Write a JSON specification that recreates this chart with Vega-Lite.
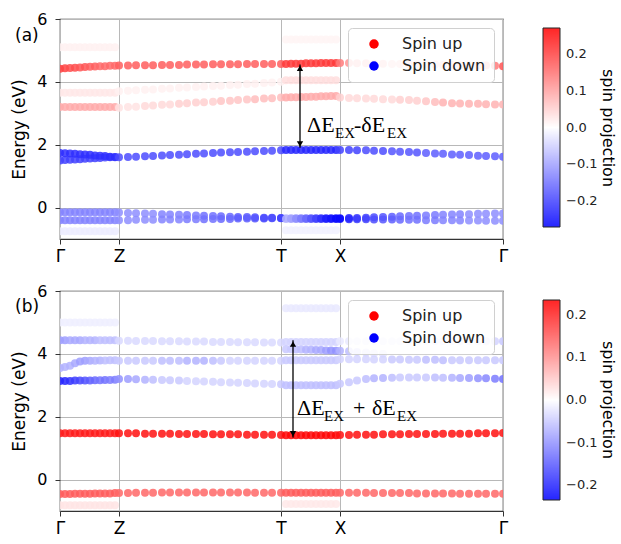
{
"$schema":"https://vega.github.io/schema/vega-lite/v6.json",
"background":"white",
"padding":{"left":10,"top":10,"right":2,"bottom":5},
"spacing":17,
"config":{
 "font":"DejaVu Sans",
 "view":{"stroke":"#333333","strokeWidth":1.2},
 "axis":{"domain":false,"tickColor":"#333333","tickSize":5,"labelColor":"#000000","labelFontSize":16,"titleFontSize":17,"titleFontWeight":"normal","titleColor":"#000000","gridColor":"#b8b8b8","gridWidth":1,"zindex":1,"labelFlush":false}
},
"resolve":{"scale":{"color":"independent","fill":"independent","shape":"independent","x":"independent","y":"independent"}},
"datasets":{
"leg":[{"lab":"Spin up"},{"lab":"Spin down"}],
"A":[
{"k":0,"e":5.1,"s":0.015},{"k":5,"e":5.1,"s":0.015},{"k":10,"e":5.1,"s":0.015},{"k":15,"e":5.1,"s":0.015},{"k":20,"e":5.1,"s":0.015},{"k":25,"e":5.1,"s":0.015},{"k":30,"e":5.1,"s":0.015},{"k":35,"e":5.1,"s":0.015},{"k":40,"e":5.1,"s":0.015},{"k":45,"e":5.1,"s":0.015},{"k":50,"e":5.1,"s":0.015},{"k":55,"e":5.1,"s":0.015},
{"k":226,"e":5.35,"s":0.012},{"k":231,"e":5.35,"s":0.012},{"k":236,"e":5.35,"s":0.012},{"k":241,"e":5.35,"s":0.012},{"k":246,"e":5.35,"s":0.012},{"k":251,"e":5.35,"s":0.012},{"k":256,"e":5.35,"s":0.012},{"k":261,"e":5.35,"s":0.012},{"k":266,"e":5.35,"s":0.012},{"k":271,"e":5.35,"s":0.012},{"k":276,"e":5.35,"s":0.012},
{"k":0,"e":-0.75,"s":-0.02},{"k":5,"e":-0.75,"s":-0.02},{"k":10,"e":-0.75,"s":-0.02},{"k":15,"e":-0.75,"s":-0.02},{"k":20,"e":-0.75,"s":-0.02},{"k":25,"e":-0.75,"s":-0.02},{"k":30,"e":-0.75,"s":-0.02},{"k":35,"e":-0.75,"s":-0.02},{"k":40,"e":-0.75,"s":-0.02},{"k":45,"e":-0.75,"s":-0.02},{"k":50,"e":-0.75,"s":-0.02},{"k":55,"e":-0.75,"s":-0.02},
{"k":226,"e":-0.72,"s":-0.015},{"k":231,"e":-0.72,"s":-0.015},{"k":236,"e":-0.72,"s":-0.015},{"k":241,"e":-0.72,"s":-0.015},{"k":246,"e":-0.72,"s":-0.015},{"k":251,"e":-0.72,"s":-0.015},{"k":256,"e":-0.72,"s":-0.015},{"k":261,"e":-0.72,"s":-0.015},{"k":266,"e":-0.72,"s":-0.015},{"k":271,"e":-0.72,"s":-0.015},{"k":276,"e":-0.72,"s":-0.015},
{"k":0,"e":3.65,"s":0.025},{"k":5,"e":3.65,"s":0.025},{"k":10,"e":3.65,"s":0.025},{"k":15,"e":3.65,"s":0.025},{"k":20,"e":3.65,"s":0.025},{"k":25,"e":3.65,"s":0.025},{"k":30,"e":3.65,"s":0.025},{"k":35,"e":3.65,"s":0.025},{"k":40,"e":3.65,"s":0.025},{"k":45,"e":3.65,"s":0.025},{"k":50,"e":3.65,"s":0.025},{"k":55,"e":3.65,"s":0.025},
{"k":59,"e":3.7,"s":0.015},{"k":68,"e":3.72,"s":0.015},{"k":76,"e":3.73,"s":0.015},{"k":85,"e":3.75,"s":0.015},{"k":93,"e":3.76,"s":0.015},{"k":102,"e":3.78,"s":0.015},{"k":110,"e":3.79,"s":0.015},{"k":119,"e":3.81,"s":0.015},{"k":127,"e":3.82,"s":0.015},{"k":136,"e":3.84,"s":0.015},{"k":144,"e":3.85,"s":0.015},{"k":153,"e":3.87,"s":0.015},{"k":161,"e":3.88,"s":0.015},{"k":170,"e":3.9,"s":0.015},{"k":178,"e":3.91,"s":0.015},{"k":187,"e":3.93,"s":0.015},{"k":195,"e":3.94,"s":0.015},{"k":204,"e":3.96,"s":0.015},{"k":212,"e":3.98,"s":0.015},{"k":221,"e":4.0,"s":0.015},
{"k":226,"e":4.05,"s":0.035},{"k":231,"e":4.05,"s":0.035},{"k":236,"e":4.05,"s":0.035},{"k":241,"e":4.05,"s":0.035},{"k":246,"e":4.05,"s":0.035},{"k":251,"e":4.05,"s":0.035},{"k":256,"e":4.05,"s":0.035},{"k":261,"e":4.05,"s":0.035},{"k":266,"e":4.05,"s":0.035},{"k":271,"e":4.05,"s":0.035},{"k":276,"e":4.05,"s":0.035},
{"k":0,"e":3.2,"s":0.09},{"k":5,"e":3.2,"s":0.09},{"k":10,"e":3.2,"s":0.09},{"k":15,"e":3.2,"s":0.09},{"k":20,"e":3.2,"s":0.09},{"k":25,"e":3.2,"s":0.09},{"k":30,"e":3.2,"s":0.09},{"k":35,"e":3.2,"s":0.09},{"k":40,"e":3.2,"s":0.09},{"k":45,"e":3.2,"s":0.09},{"k":50,"e":3.2,"s":0.09},{"k":55,"e":3.2,"s":0.09},
{"k":59,"e":3.18,"s":0.03},{"k":68,"e":3.2,"s":0.03},{"k":76,"e":3.21,"s":0.03},{"k":85,"e":3.23,"s":0.04},{"k":93,"e":3.25,"s":0.04},{"k":102,"e":3.27,"s":0.04},{"k":110,"e":3.28,"s":0.04},{"k":119,"e":3.3,"s":0.05},{"k":127,"e":3.32,"s":0.05},{"k":136,"e":3.34,"s":0.05},{"k":144,"e":3.35,"s":0.05},{"k":153,"e":3.37,"s":0.05},{"k":161,"e":3.39,"s":0.06},{"k":170,"e":3.4,"s":0.06},{"k":178,"e":3.42,"s":0.06},{"k":187,"e":3.44,"s":0.06},{"k":195,"e":3.45,"s":0.07},{"k":204,"e":3.47,"s":0.07},{"k":212,"e":3.48,"s":0.07},{"k":221,"e":3.5,"s":0.07},
{"k":226,"e":3.5,"s":0.09},{"k":231,"e":3.51,"s":0.09},{"k":236,"e":3.51,"s":0.09},{"k":241,"e":3.52,"s":0.09},{"k":246,"e":3.52,"s":0.09},{"k":251,"e":3.53,"s":0.09},{"k":256,"e":3.53,"s":0.09},{"k":261,"e":3.54,"s":0.09},{"k":266,"e":3.54,"s":0.09},{"k":271,"e":3.55,"s":0.09},{"k":276,"e":3.55,"s":0.09},
{"k":280,"e":3.5,"s":0.05},{"k":289,"e":3.49,"s":0.04},{"k":297,"e":3.48,"s":0.04},{"k":306,"e":3.47,"s":0.04},{"k":314,"e":3.46,"s":0.04},{"k":323,"e":3.45,"s":0.04},{"k":332,"e":3.44,"s":0.04},{"k":340,"e":3.43,"s":0.05},{"k":349,"e":3.42,"s":0.05},{"k":357,"e":3.4,"s":0.05},{"k":366,"e":3.38,"s":0.06},{"k":375,"e":3.36,"s":0.07},{"k":383,"e":3.34,"s":0.08},{"k":392,"e":3.32,"s":0.08},{"k":400,"e":3.31,"s":0.08},{"k":409,"e":3.3,"s":0.08},{"k":418,"e":3.3,"s":0.08},{"k":426,"e":3.29,"s":0.08},{"k":435,"e":3.28,"s":0.08},{"k":443,"e":3.28,"s":0.08},
{"k":0,"e":4.42,"s":0.2},{"k":5,"e":4.43,"s":0.2},{"k":10,"e":4.44,"s":0.19},{"k":15,"e":4.45,"s":0.19},{"k":20,"e":4.46,"s":0.18},{"k":25,"e":4.47,"s":0.18},{"k":30,"e":4.48,"s":0.17},{"k":35,"e":4.49,"s":0.17},{"k":40,"e":4.5,"s":0.16},{"k":45,"e":4.5,"s":0.16},{"k":50,"e":4.51,"s":0.16},{"k":55,"e":4.51,"s":0.16},
{"k":59,"e":4.52,"s":0.17},{"k":68,"e":4.52,"s":0.17},{"k":76,"e":4.53,"s":0.17},{"k":85,"e":4.53,"s":0.17},{"k":93,"e":4.53,"s":0.17},{"k":102,"e":4.54,"s":0.17},{"k":110,"e":4.54,"s":0.17},{"k":119,"e":4.54,"s":0.17},{"k":127,"e":4.55,"s":0.17},{"k":136,"e":4.55,"s":0.17},{"k":144,"e":4.55,"s":0.17},{"k":153,"e":4.56,"s":0.17},{"k":161,"e":4.56,"s":0.17},{"k":170,"e":4.56,"s":0.17},{"k":178,"e":4.56,"s":0.17},{"k":187,"e":4.57,"s":0.17},{"k":195,"e":4.57,"s":0.17},{"k":204,"e":4.57,"s":0.17},{"k":212,"e":4.57,"s":0.17},{"k":221,"e":4.57,"s":0.17},
{"k":226,"e":4.57,"s":0.21},{"k":231,"e":4.58,"s":0.21},{"k":236,"e":4.58,"s":0.21},{"k":241,"e":4.58,"s":0.21},{"k":246,"e":4.59,"s":0.21},{"k":251,"e":4.59,"s":0.21},{"k":256,"e":4.59,"s":0.21},{"k":261,"e":4.6,"s":0.21},{"k":266,"e":4.6,"s":0.21},{"k":271,"e":4.6,"s":0.21},{"k":276,"e":4.6,"s":0.21},
{"k":280,"e":4.6,"s":0.14},{"k":289,"e":4.6,"s":0.11},{"k":297,"e":4.59,"s":0.1},{"k":306,"e":4.59,"s":0.09},{"k":314,"e":4.58,"s":0.08},{"k":323,"e":4.58,"s":0.08},{"k":332,"e":4.57,"s":0.07},{"k":340,"e":4.57,"s":0.07},{"k":349,"e":4.56,"s":0.07},{"k":357,"e":4.56,"s":0.07},{"k":366,"e":4.55,"s":0.07},{"k":375,"e":4.55,"s":0.07},{"k":383,"e":4.54,"s":0.07},{"k":392,"e":4.54,"s":0.07},{"k":400,"e":4.53,"s":0.08},{"k":409,"e":4.53,"s":0.08},{"k":418,"e":4.52,"s":0.09},{"k":426,"e":4.52,"s":0.11},{"k":435,"e":4.51,"s":0.14},{"k":443,"e":4.5,"s":0.18},
{"k":0,"e":1.5,"s":-0.2},{"k":5,"e":1.51,"s":-0.2},{"k":10,"e":1.52,"s":-0.2},{"k":15,"e":1.53,"s":-0.2},{"k":20,"e":1.54,"s":-0.2},{"k":25,"e":1.55,"s":-0.2},{"k":30,"e":1.56,"s":-0.2},{"k":35,"e":1.57,"s":-0.2},{"k":40,"e":1.58,"s":-0.2},{"k":45,"e":1.59,"s":-0.2},{"k":50,"e":1.6,"s":-0.2},{"k":55,"e":1.6,"s":-0.2},
{"k":0,"e":1.74,"s":-0.22},{"k":5,"e":1.73,"s":-0.22},{"k":10,"e":1.72,"s":-0.22},{"k":15,"e":1.71,"s":-0.22},{"k":20,"e":1.7,"s":-0.22},{"k":25,"e":1.69,"s":-0.22},{"k":30,"e":1.68,"s":-0.22},{"k":35,"e":1.66,"s":-0.22},{"k":40,"e":1.65,"s":-0.22},{"k":45,"e":1.64,"s":-0.22},{"k":50,"e":1.62,"s":-0.22},{"k":55,"e":1.61,"s":-0.22},
{"k":59,"e":1.6,"s":-0.19},{"k":68,"e":1.61,"s":-0.19},{"k":76,"e":1.62,"s":-0.19},{"k":85,"e":1.63,"s":-0.19},{"k":93,"e":1.64,"s":-0.19},{"k":102,"e":1.66,"s":-0.19},{"k":110,"e":1.67,"s":-0.19},{"k":119,"e":1.68,"s":-0.19},{"k":127,"e":1.7,"s":-0.19},{"k":136,"e":1.71,"s":-0.19},{"k":144,"e":1.72,"s":-0.19},{"k":153,"e":1.74,"s":-0.19},{"k":161,"e":1.75,"s":-0.19},{"k":170,"e":1.76,"s":-0.19},{"k":178,"e":1.77,"s":-0.19},{"k":187,"e":1.78,"s":-0.19},{"k":195,"e":1.79,"s":-0.19},{"k":204,"e":1.8,"s":-0.19},{"k":212,"e":1.81,"s":-0.19},{"k":221,"e":1.82,"s":-0.19},
{"k":226,"e":1.83,"s":-0.23},{"k":231,"e":1.83,"s":-0.23},{"k":236,"e":1.83,"s":-0.23},{"k":241,"e":1.83,"s":-0.23},{"k":246,"e":1.83,"s":-0.23},{"k":251,"e":1.83,"s":-0.23},{"k":256,"e":1.83,"s":-0.23},{"k":261,"e":1.83,"s":-0.23},{"k":266,"e":1.83,"s":-0.23},{"k":271,"e":1.83,"s":-0.23},{"k":276,"e":1.83,"s":-0.23},
{"k":280,"e":1.83,"s":-0.2},{"k":289,"e":1.83,"s":-0.2},{"k":297,"e":1.82,"s":-0.2},{"k":306,"e":1.82,"s":-0.19},{"k":314,"e":1.81,"s":-0.19},{"k":323,"e":1.8,"s":-0.19},{"k":332,"e":1.79,"s":-0.18},{"k":340,"e":1.78,"s":-0.18},{"k":349,"e":1.77,"s":-0.18},{"k":357,"e":1.75,"s":-0.18},{"k":366,"e":1.74,"s":-0.17},{"k":375,"e":1.72,"s":-0.17},{"k":383,"e":1.71,"s":-0.17},{"k":392,"e":1.69,"s":-0.17},{"k":400,"e":1.68,"s":-0.17},{"k":409,"e":1.67,"s":-0.17},{"k":418,"e":1.65,"s":-0.17},{"k":426,"e":1.64,"s":-0.17},{"k":435,"e":1.63,"s":-0.17},{"k":443,"e":1.62,"s":-0.17},
{"k":0,"e":-0.15,"s":-0.13},{"k":5,"e":-0.15,"s":-0.13},{"k":10,"e":-0.15,"s":-0.13},{"k":15,"e":-0.15,"s":-0.13},{"k":20,"e":-0.15,"s":-0.13},{"k":25,"e":-0.15,"s":-0.13},{"k":30,"e":-0.15,"s":-0.13},{"k":35,"e":-0.15,"s":-0.13},{"k":40,"e":-0.15,"s":-0.13},{"k":45,"e":-0.15,"s":-0.13},{"k":50,"e":-0.15,"s":-0.13},{"k":55,"e":-0.15,"s":-0.13},
{"k":59,"e":-0.16,"s":-0.12},{"k":68,"e":-0.17,"s":-0.12},{"k":76,"e":-0.18,"s":-0.12},{"k":85,"e":-0.19,"s":-0.12},{"k":93,"e":-0.2,"s":-0.12},{"k":102,"e":-0.21,"s":-0.13},{"k":110,"e":-0.22,"s":-0.13},{"k":119,"e":-0.23,"s":-0.13},{"k":127,"e":-0.24,"s":-0.14},{"k":136,"e":-0.25,"s":-0.14},{"k":144,"e":-0.26,"s":-0.15},{"k":153,"e":-0.27,"s":-0.15},{"k":161,"e":-0.28,"s":-0.16},{"k":170,"e":-0.29,"s":-0.16},{"k":178,"e":-0.3,"s":-0.17},{"k":187,"e":-0.3,"s":-0.17},{"k":195,"e":-0.31,"s":-0.18},{"k":204,"e":-0.32,"s":-0.19},{"k":212,"e":-0.32,"s":-0.19},{"k":221,"e":-0.33,"s":-0.2},
{"k":226,"e":-0.34,"s":-0.08},{"k":231,"e":-0.34,"s":-0.1},{"k":236,"e":-0.34,"s":-0.12},{"k":241,"e":-0.34,"s":-0.14},{"k":246,"e":-0.34,"s":-0.16},{"k":251,"e":-0.34,"s":-0.18},{"k":256,"e":-0.34,"s":-0.2},{"k":261,"e":-0.34,"s":-0.22},{"k":266,"e":-0.34,"s":-0.24},{"k":271,"e":-0.34,"s":-0.25},{"k":276,"e":-0.34,"s":-0.26},
{"k":280,"e":-0.34,"s":-0.26},{"k":289,"e":-0.33,"s":-0.23},{"k":297,"e":-0.33,"s":-0.21},{"k":306,"e":-0.32,"s":-0.2},{"k":314,"e":-0.31,"s":-0.19},{"k":323,"e":-0.3,"s":-0.18},{"k":332,"e":-0.29,"s":-0.17},{"k":340,"e":-0.28,"s":-0.16},{"k":349,"e":-0.27,"s":-0.15},{"k":357,"e":-0.26,"s":-0.15},{"k":366,"e":-0.25,"s":-0.14},{"k":375,"e":-0.24,"s":-0.14},{"k":383,"e":-0.23,"s":-0.13},{"k":392,"e":-0.22,"s":-0.13},{"k":400,"e":-0.21,"s":-0.13},{"k":409,"e":-0.21,"s":-0.12},{"k":418,"e":-0.2,"s":-0.12},{"k":426,"e":-0.2,"s":-0.12},{"k":435,"e":-0.19,"s":-0.12},{"k":443,"e":-0.19,"s":-0.12},
{"k":0,"e":-0.4,"s":-0.13},{"k":5,"e":-0.4,"s":-0.13},{"k":10,"e":-0.4,"s":-0.13},{"k":15,"e":-0.4,"s":-0.13},{"k":20,"e":-0.4,"s":-0.13},{"k":25,"e":-0.4,"s":-0.13},{"k":30,"e":-0.4,"s":-0.13},{"k":35,"e":-0.4,"s":-0.13},{"k":40,"e":-0.4,"s":-0.13},{"k":45,"e":-0.4,"s":-0.13},{"k":50,"e":-0.4,"s":-0.13},{"k":55,"e":-0.4,"s":-0.13},
{"k":59,"e":-0.4,"s":-0.12},{"k":68,"e":-0.4,"s":-0.12},{"k":76,"e":-0.39,"s":-0.12},{"k":85,"e":-0.39,"s":-0.12},{"k":93,"e":-0.39,"s":-0.12},{"k":102,"e":-0.38,"s":-0.13},{"k":110,"e":-0.38,"s":-0.13},{"k":119,"e":-0.38,"s":-0.13},{"k":127,"e":-0.37,"s":-0.14},{"k":136,"e":-0.37,"s":-0.14},{"k":144,"e":-0.37,"s":-0.15},{"k":153,"e":-0.36,"s":-0.15},{"k":161,"e":-0.36,"s":-0.16},{"k":170,"e":-0.36,"s":-0.16},{"k":178,"e":-0.35,"s":-0.17},{"k":187,"e":-0.35,"s":-0.17},{"k":195,"e":-0.35,"s":-0.18},{"k":204,"e":-0.35,"s":-0.19},{"k":212,"e":-0.34,"s":-0.19},{"k":221,"e":-0.34,"s":-0.2},
{"k":226,"e":-0.36,"s":-0.08},{"k":231,"e":-0.36,"s":-0.1},{"k":236,"e":-0.36,"s":-0.12},{"k":241,"e":-0.36,"s":-0.14},{"k":246,"e":-0.36,"s":-0.16},{"k":251,"e":-0.36,"s":-0.18},{"k":256,"e":-0.36,"s":-0.2},{"k":261,"e":-0.36,"s":-0.22},{"k":266,"e":-0.36,"s":-0.24},{"k":271,"e":-0.36,"s":-0.25},{"k":276,"e":-0.36,"s":-0.26},
{"k":280,"e":-0.36,"s":-0.26},{"k":289,"e":-0.37,"s":-0.23},{"k":297,"e":-0.37,"s":-0.21},{"k":306,"e":-0.37,"s":-0.2},{"k":314,"e":-0.38,"s":-0.19},{"k":323,"e":-0.38,"s":-0.18},{"k":332,"e":-0.38,"s":-0.17},{"k":340,"e":-0.39,"s":-0.16},{"k":349,"e":-0.39,"s":-0.15},{"k":357,"e":-0.39,"s":-0.15},{"k":366,"e":-0.4,"s":-0.14},{"k":375,"e":-0.4,"s":-0.14},{"k":383,"e":-0.4,"s":-0.13},{"k":392,"e":-0.4,"s":-0.13},{"k":400,"e":-0.41,"s":-0.13},{"k":409,"e":-0.41,"s":-0.12},{"k":418,"e":-0.41,"s":-0.12},{"k":426,"e":-0.42,"s":-0.12},{"k":435,"e":-0.42,"s":-0.12},{"k":443,"e":-0.42,"s":-0.12}
],
"B":[
{"k":0,"e":5.0,"s":-0.015},{"k":5,"e":5.0,"s":-0.015},{"k":10,"e":5.0,"s":-0.015},{"k":15,"e":5.0,"s":-0.015},{"k":20,"e":5.0,"s":-0.015},{"k":25,"e":5.0,"s":-0.015},{"k":30,"e":5.0,"s":-0.015},{"k":35,"e":5.0,"s":-0.015},{"k":40,"e":5.0,"s":-0.015},{"k":45,"e":5.0,"s":-0.015},{"k":50,"e":5.0,"s":-0.015},{"k":55,"e":5.0,"s":-0.015},
{"k":226,"e":5.45,"s":-0.02},{"k":231,"e":5.45,"s":-0.02},{"k":236,"e":5.45,"s":-0.02},{"k":241,"e":5.45,"s":-0.02},{"k":246,"e":5.45,"s":-0.02},{"k":251,"e":5.45,"s":-0.02},{"k":256,"e":5.45,"s":-0.02},{"k":261,"e":5.45,"s":-0.02},{"k":266,"e":5.45,"s":-0.02},{"k":271,"e":5.45,"s":-0.02},{"k":276,"e":5.45,"s":-0.02},
{"k":0,"e":-0.82,"s":0.025},{"k":5,"e":-0.82,"s":0.025},{"k":10,"e":-0.82,"s":0.025},{"k":15,"e":-0.82,"s":0.025},{"k":20,"e":-0.82,"s":0.025},{"k":25,"e":-0.82,"s":0.025},{"k":30,"e":-0.82,"s":0.025},{"k":35,"e":-0.82,"s":0.025},{"k":40,"e":-0.82,"s":0.025},{"k":45,"e":-0.82,"s":0.025},{"k":50,"e":-0.82,"s":0.025},{"k":55,"e":-0.82,"s":0.025},
{"k":226,"e":-0.78,"s":0.02},{"k":231,"e":-0.78,"s":0.02},{"k":236,"e":-0.78,"s":0.02},{"k":241,"e":-0.78,"s":0.02},{"k":246,"e":-0.78,"s":0.02},{"k":251,"e":-0.78,"s":0.02},{"k":256,"e":-0.78,"s":0.02},{"k":261,"e":-0.78,"s":0.02},{"k":266,"e":-0.78,"s":0.02},{"k":271,"e":-0.78,"s":0.02},{"k":276,"e":-0.78,"s":0.02},
{"k":0,"e":4.43,"s":-0.09},{"k":5,"e":4.43,"s":-0.09},{"k":10,"e":4.43,"s":-0.08},{"k":15,"e":4.43,"s":-0.08},{"k":20,"e":4.43,"s":-0.08},{"k":25,"e":4.43,"s":-0.07},{"k":30,"e":4.43,"s":-0.07},{"k":35,"e":4.43,"s":-0.07},{"k":40,"e":4.43,"s":-0.06},{"k":45,"e":4.43,"s":-0.06},{"k":50,"e":4.43,"s":-0.06},{"k":55,"e":4.43,"s":-0.06},
{"k":59,"e":4.42,"s":-0.035},{"k":68,"e":4.42,"s":-0.035},{"k":76,"e":4.41,"s":-0.035},{"k":85,"e":4.41,"s":-0.035},{"k":93,"e":4.41,"s":-0.035},{"k":102,"e":4.4,"s":-0.035},{"k":110,"e":4.4,"s":-0.035},{"k":119,"e":4.4,"s":-0.035},{"k":127,"e":4.39,"s":-0.035},{"k":136,"e":4.39,"s":-0.035},{"k":144,"e":4.39,"s":-0.035},{"k":153,"e":4.38,"s":-0.035},{"k":161,"e":4.38,"s":-0.035},{"k":170,"e":4.38,"s":-0.035},{"k":178,"e":4.37,"s":-0.035},{"k":187,"e":4.37,"s":-0.035},{"k":195,"e":4.37,"s":-0.035},{"k":204,"e":4.36,"s":-0.035},{"k":212,"e":4.36,"s":-0.035},{"k":221,"e":4.36,"s":-0.035},
{"k":226,"e":4.38,"s":-0.04},{"k":231,"e":4.38,"s":-0.04},{"k":236,"e":4.38,"s":-0.04},{"k":241,"e":4.38,"s":-0.04},{"k":246,"e":4.38,"s":-0.04},{"k":251,"e":4.38,"s":-0.04},{"k":256,"e":4.38,"s":-0.04},{"k":261,"e":4.38,"s":-0.04},{"k":266,"e":4.38,"s":-0.04},{"k":271,"e":4.38,"s":-0.04},{"k":276,"e":4.38,"s":-0.04},
{"k":280,"e":4.4,"s":-0.02},{"k":289,"e":4.4,"s":-0.02},{"k":297,"e":4.4,"s":-0.02},{"k":306,"e":4.4,"s":-0.02},{"k":314,"e":4.4,"s":-0.02},{"k":323,"e":4.4,"s":-0.02},{"k":332,"e":4.4,"s":-0.02},{"k":340,"e":4.4,"s":-0.02},{"k":349,"e":4.4,"s":-0.02},{"k":357,"e":4.4,"s":-0.02},{"k":366,"e":4.4,"s":-0.02},{"k":375,"e":4.4,"s":-0.03},{"k":383,"e":4.4,"s":-0.03},{"k":392,"e":4.4,"s":-0.03},{"k":400,"e":4.4,"s":-0.03},{"k":409,"e":4.4,"s":-0.03},{"k":418,"e":4.4,"s":-0.03},{"k":426,"e":4.4,"s":-0.04},{"k":435,"e":4.4,"s":-0.04},{"k":443,"e":4.4,"s":-0.05},
{"k":226,"e":4.15,"s":-0.05},{"k":231,"e":4.15,"s":-0.05},{"k":236,"e":4.14,"s":-0.06},{"k":241,"e":4.14,"s":-0.06},{"k":246,"e":4.13,"s":-0.07},{"k":251,"e":4.13,"s":-0.07},{"k":256,"e":4.12,"s":-0.08},{"k":261,"e":4.12,"s":-0.08},{"k":266,"e":4.11,"s":-0.09},{"k":271,"e":4.11,"s":-0.1},{"k":276,"e":4.1,"s":-0.1},
{"k":280,"e":4.1,"s":-0.07},{"k":289,"e":4.08,"s":-0.06},{"k":297,"e":4.06,"s":-0.05},{"k":306,"e":4.04,"s":-0.04},{"k":314,"e":4.02,"s":-0.03},{"k":323,"e":4.0,"s":-0.03},
{"k":0,"e":3.55,"s":-0.07},{"k":5,"e":3.58,"s":-0.07},{"k":10,"e":3.62,"s":-0.07},{"k":15,"e":3.7,"s":-0.08},{"k":20,"e":3.76,"s":-0.09},{"k":25,"e":3.78,"s":-0.09},{"k":30,"e":3.78,"s":-0.08},{"k":35,"e":3.78,"s":-0.07},{"k":40,"e":3.79,"s":-0.07},{"k":45,"e":3.79,"s":-0.06},{"k":50,"e":3.8,"s":-0.06},{"k":55,"e":3.8,"s":-0.06},
{"k":59,"e":3.78,"s":-0.05},{"k":68,"e":3.78,"s":-0.05},{"k":76,"e":3.78,"s":-0.05},{"k":85,"e":3.78,"s":-0.05},{"k":93,"e":3.78,"s":-0.05},{"k":102,"e":3.78,"s":-0.06},{"k":110,"e":3.78,"s":-0.06},{"k":119,"e":3.78,"s":-0.06},{"k":127,"e":3.78,"s":-0.07},{"k":136,"e":3.78,"s":-0.07},{"k":144,"e":3.78,"s":-0.07},{"k":153,"e":3.78,"s":-0.06},{"k":161,"e":3.78,"s":-0.05},{"k":170,"e":3.78,"s":-0.04},{"k":178,"e":3.78,"s":-0.04},{"k":187,"e":3.78,"s":-0.04},{"k":195,"e":3.78,"s":-0.04},{"k":204,"e":3.78,"s":-0.04},{"k":212,"e":3.78,"s":-0.04},{"k":221,"e":3.78,"s":-0.04},
{"k":226,"e":3.8,"s":-0.05},{"k":231,"e":3.8,"s":-0.05},{"k":236,"e":3.8,"s":-0.05},{"k":241,"e":3.8,"s":-0.05},{"k":246,"e":3.8,"s":-0.05},{"k":251,"e":3.8,"s":-0.05},{"k":256,"e":3.8,"s":-0.05},{"k":261,"e":3.8,"s":-0.05},{"k":266,"e":3.8,"s":-0.05},{"k":271,"e":3.8,"s":-0.05},{"k":276,"e":3.8,"s":-0.05},
{"k":280,"e":3.83,"s":-0.04},{"k":289,"e":3.83,"s":-0.04},{"k":297,"e":3.83,"s":-0.04},{"k":306,"e":3.83,"s":-0.04},{"k":314,"e":3.82,"s":-0.04},{"k":323,"e":3.82,"s":-0.04},{"k":332,"e":3.82,"s":-0.05},{"k":340,"e":3.82,"s":-0.05},{"k":349,"e":3.81,"s":-0.05},{"k":357,"e":3.81,"s":-0.05},{"k":366,"e":3.81,"s":-0.06},{"k":375,"e":3.81,"s":-0.06},{"k":383,"e":3.8,"s":-0.06},{"k":392,"e":3.8,"s":-0.05},{"k":400,"e":3.8,"s":-0.05},{"k":409,"e":3.8,"s":-0.05},{"k":418,"e":3.8,"s":-0.05},{"k":426,"e":3.8,"s":-0.05},{"k":435,"e":3.8,"s":-0.05},{"k":443,"e":3.8,"s":-0.05},
{"k":0,"e":3.14,"s":-0.2},{"k":5,"e":3.14,"s":-0.2},{"k":10,"e":3.14,"s":-0.19},{"k":15,"e":3.15,"s":-0.18},{"k":20,"e":3.15,"s":-0.17},{"k":25,"e":3.15,"s":-0.16},{"k":30,"e":3.15,"s":-0.15},{"k":35,"e":3.16,"s":-0.14},{"k":40,"e":3.16,"s":-0.13},{"k":45,"e":3.17,"s":-0.13},{"k":50,"e":3.17,"s":-0.12},{"k":55,"e":3.18,"s":-0.12},
{"k":59,"e":3.2,"s":-0.1},{"k":68,"e":3.2,"s":-0.09},{"k":76,"e":3.19,"s":-0.08},{"k":85,"e":3.18,"s":-0.07},{"k":93,"e":3.18,"s":-0.06},{"k":102,"e":3.17,"s":-0.05},{"k":110,"e":3.16,"s":-0.05},{"k":119,"e":3.15,"s":-0.05},{"k":127,"e":3.14,"s":-0.04},{"k":136,"e":3.13,"s":-0.04},{"k":144,"e":3.12,"s":-0.04},{"k":153,"e":3.11,"s":-0.04},{"k":161,"e":3.1,"s":-0.04},{"k":170,"e":3.09,"s":-0.04},{"k":178,"e":3.08,"s":-0.04},{"k":187,"e":3.07,"s":-0.04},{"k":195,"e":3.06,"s":-0.04},{"k":204,"e":3.05,"s":-0.04},{"k":212,"e":3.04,"s":-0.04},{"k":221,"e":3.03,"s":-0.05},
{"k":226,"e":3.0,"s":-0.06},{"k":231,"e":3.0,"s":-0.06},{"k":236,"e":3.0,"s":-0.06},{"k":241,"e":3.0,"s":-0.06},{"k":246,"e":3.0,"s":-0.06},{"k":251,"e":3.0,"s":-0.06},{"k":256,"e":3.0,"s":-0.06},{"k":261,"e":3.0,"s":-0.06},{"k":266,"e":3.0,"s":-0.06},{"k":271,"e":3.0,"s":-0.06},{"k":276,"e":3.0,"s":-0.06},
{"k":280,"e":3.05,"s":-0.05},{"k":289,"e":3.1,"s":-0.05},{"k":297,"e":3.15,"s":-0.05},{"k":306,"e":3.2,"s":-0.06},{"k":314,"e":3.22,"s":-0.07},{"k":323,"e":3.23,"s":-0.07},{"k":332,"e":3.24,"s":-0.06},{"k":340,"e":3.25,"s":-0.05},{"k":349,"e":3.25,"s":-0.05},{"k":357,"e":3.25,"s":-0.05},{"k":366,"e":3.25,"s":-0.05},{"k":375,"e":3.25,"s":-0.06},{"k":383,"e":3.24,"s":-0.06},{"k":392,"e":3.24,"s":-0.07},{"k":400,"e":3.23,"s":-0.08},{"k":409,"e":3.23,"s":-0.09},{"k":418,"e":3.22,"s":-0.1},{"k":426,"e":3.22,"s":-0.11},{"k":435,"e":3.21,"s":-0.12},{"k":443,"e":3.2,"s":-0.13},
{"k":0,"e":-0.46,"s":0.15},{"k":5,"e":-0.46,"s":0.15},{"k":10,"e":-0.46,"s":0.15},{"k":15,"e":-0.45,"s":0.15},{"k":20,"e":-0.45,"s":0.15},{"k":25,"e":-0.45,"s":0.15},{"k":30,"e":-0.45,"s":0.15},{"k":35,"e":-0.44,"s":0.15},{"k":40,"e":-0.44,"s":0.15},{"k":45,"e":-0.44,"s":0.15},{"k":50,"e":-0.44,"s":0.15},{"k":55,"e":-0.43,"s":0.15},
{"k":59,"e":-0.43,"s":0.14},{"k":68,"e":-0.43,"s":0.14},{"k":76,"e":-0.42,"s":0.14},{"k":85,"e":-0.42,"s":0.14},{"k":93,"e":-0.42,"s":0.14},{"k":102,"e":-0.41,"s":0.14},{"k":110,"e":-0.41,"s":0.14},{"k":119,"e":-0.41,"s":0.14},{"k":127,"e":-0.41,"s":0.14},{"k":136,"e":-0.41,"s":0.14},{"k":144,"e":-0.41,"s":0.14},{"k":153,"e":-0.41,"s":0.14},{"k":161,"e":-0.41,"s":0.14},{"k":170,"e":-0.41,"s":0.14},{"k":178,"e":-0.41,"s":0.14},{"k":187,"e":-0.41,"s":0.14},{"k":195,"e":-0.42,"s":0.14},{"k":204,"e":-0.42,"s":0.14},{"k":212,"e":-0.42,"s":0.14},{"k":221,"e":-0.42,"s":0.14},
{"k":226,"e":-0.42,"s":0.15},{"k":231,"e":-0.42,"s":0.15},{"k":236,"e":-0.42,"s":0.15},{"k":241,"e":-0.42,"s":0.15},{"k":246,"e":-0.42,"s":0.15},{"k":251,"e":-0.42,"s":0.15},{"k":256,"e":-0.42,"s":0.15},{"k":261,"e":-0.42,"s":0.15},{"k":266,"e":-0.42,"s":0.15},{"k":271,"e":-0.42,"s":0.15},{"k":276,"e":-0.42,"s":0.15},
{"k":280,"e":-0.42,"s":0.14},{"k":289,"e":-0.42,"s":0.14},{"k":297,"e":-0.42,"s":0.14},{"k":306,"e":-0.42,"s":0.14},{"k":314,"e":-0.43,"s":0.14},{"k":323,"e":-0.43,"s":0.14},{"k":332,"e":-0.43,"s":0.14},{"k":340,"e":-0.43,"s":0.14},{"k":349,"e":-0.43,"s":0.14},{"k":357,"e":-0.44,"s":0.14},{"k":366,"e":-0.44,"s":0.14},{"k":375,"e":-0.44,"s":0.14},{"k":383,"e":-0.44,"s":0.14},{"k":392,"e":-0.44,"s":0.14},{"k":400,"e":-0.45,"s":0.14},{"k":409,"e":-0.45,"s":0.14},{"k":418,"e":-0.45,"s":0.14},{"k":426,"e":-0.45,"s":0.14},{"k":435,"e":-0.45,"s":0.14},{"k":443,"e":-0.45,"s":0.14},
{"k":0,"e":1.47,"s":0.21},{"k":5,"e":1.47,"s":0.21},{"k":10,"e":1.47,"s":0.21},{"k":15,"e":1.47,"s":0.21},{"k":20,"e":1.47,"s":0.21},{"k":25,"e":1.47,"s":0.21},{"k":30,"e":1.47,"s":0.21},{"k":35,"e":1.47,"s":0.21},{"k":40,"e":1.47,"s":0.21},{"k":45,"e":1.47,"s":0.21},{"k":50,"e":1.47,"s":0.21},{"k":55,"e":1.47,"s":0.21},
{"k":59,"e":1.47,"s":0.22},{"k":68,"e":1.47,"s":0.22},{"k":76,"e":1.47,"s":0.22},{"k":85,"e":1.46,"s":0.22},{"k":93,"e":1.46,"s":0.22},{"k":102,"e":1.46,"s":0.22},{"k":110,"e":1.46,"s":0.22},{"k":119,"e":1.45,"s":0.22},{"k":127,"e":1.45,"s":0.22},{"k":136,"e":1.45,"s":0.22},{"k":144,"e":1.45,"s":0.22},{"k":153,"e":1.44,"s":0.22},{"k":161,"e":1.44,"s":0.22},{"k":170,"e":1.44,"s":0.22},{"k":178,"e":1.44,"s":0.22},{"k":187,"e":1.43,"s":0.22},{"k":195,"e":1.43,"s":0.22},{"k":204,"e":1.43,"s":0.22},{"k":212,"e":1.43,"s":0.22},{"k":221,"e":1.42,"s":0.22},
{"k":226,"e":1.41,"s":0.23},{"k":231,"e":1.41,"s":0.23},{"k":236,"e":1.41,"s":0.23},{"k":241,"e":1.41,"s":0.23},{"k":246,"e":1.41,"s":0.23},{"k":251,"e":1.41,"s":0.23},{"k":256,"e":1.41,"s":0.23},{"k":261,"e":1.41,"s":0.23},{"k":266,"e":1.41,"s":0.23},{"k":271,"e":1.41,"s":0.23},{"k":276,"e":1.41,"s":0.23},
{"k":280,"e":1.42,"s":0.22},{"k":289,"e":1.42,"s":0.22},{"k":297,"e":1.43,"s":0.22},{"k":306,"e":1.43,"s":0.22},{"k":314,"e":1.43,"s":0.22},{"k":323,"e":1.44,"s":0.22},{"k":332,"e":1.44,"s":0.22},{"k":340,"e":1.44,"s":0.22},{"k":349,"e":1.45,"s":0.22},{"k":357,"e":1.45,"s":0.22},{"k":366,"e":1.45,"s":0.22},{"k":375,"e":1.45,"s":0.22},{"k":383,"e":1.46,"s":0.22},{"k":392,"e":1.46,"s":0.22},{"k":400,"e":1.46,"s":0.22},{"k":409,"e":1.46,"s":0.22},{"k":418,"e":1.47,"s":0.22},{"k":426,"e":1.47,"s":0.22},{"k":435,"e":1.47,"s":0.22},{"k":443,"e":1.48,"s":0.22}
],
"labA":[{"k":-45,"e":5.45,"t":"(a)"}],
"mainA":[{"k":247,"e":2.4,"t":"ΔE"},{"k":294,"e":2.4,"t":"-δE"}],
"subA":[{"k":275,"e":2.21,"t":"EX"},{"k":327,"e":2.21,"t":"EX"}],
"arrA":[{"k":240,"lo":1.9,"hi":4.55}],
"headA":[{"k":240,"e":4.43,"d":"up"},{"k":240,"e":2.02,"d":"down"}],
"labB":[{"k":-45,"e":5.49,"t":"(b)"}],
"mainB":[{"k":237,"e":2.04,"t":"ΔE"},{"k":293,"e":2.04,"t":"+"},{"k":312,"e":2.04,"t":"δE"}],
"subB":[{"k":264,"e":1.85,"t":"EX"},{"k":337,"e":1.85,"t":"EX"}],
"arrB":[{"k":233,"lo":1.34,"hi":4.43}],
"headB":[{"k":233,"e":4.31,"d":"up"},{"k":233,"e":1.46,"d":"down"}]
},
"vconcat":[
{"width":443,"height":220,
 "layer":[
  {"data":{"name":"A"},"mark":{"type":"point","filled":true,"size":64,"opacity":0.85,"clip":true,"strokeWidth":0},
   "encoding":{
    "x":{"field":"k","type":"quantitative","scale":{"domain":[0,443],"nice":false,"zero":false},"axis":{"values":[0,59,221,280,443],"labelExpr":"datum.value == 59 ? 'Z' : datum.value == 221 ? 'T' : datum.value == 280 ? 'X' : 'Γ'","title":null,"grid":true,"labelFontSize":17,"labelPadding":4,"labelFlush":false}},
    "y":{"field":"e","type":"quantitative","scale":{"domain":[-1,6],"nice":false,"zero":false},"axis":{"values":[0,2,4,6],"title":"Energy (eV)","grid":true,"labelPadding":8,"titlePadding":8,"labelFontSize":16,"titleFontSize":17,"titleFontWeight":"normal","labelFlush":false}},
    "color":{"field":"s","type":"quantitative","scale":{"domain":[-0.27,0,0.27],"range":["#0000ff","#ffffff","#ff0000"],"interpolate":"rgb"},
      "legend":{"orient":"none","legendX":483,"legendY":9,"direction":"vertical","gradientLength":199,"gradientThickness":17,"gradientStrokeColor":"#000000","gradientStrokeWidth":1,"values":[-0.2,-0.1,0,0.1,0.2],"format":".1f","labelFontSize":13,"labelOffset":6,"labelColor":"#222222","title":"spin projection","titleOrient":"right","titleAngle":90,"titleFontSize":16,"titleFontWeight":"normal","titlePadding":2,"titleAnchor":"middle","titleColor":"#000000"}}
   }},
  {"data":{"name":"leg"},"mark":{"type":"point","filled":true,"clip":true,"opacity":1,"size":90},
   "encoding":{"x":{"datum":-500,"type":"quantitative"},"y":{"datum":-50,"type":"quantitative"},
    "fill":{"field":"lab","type":"nominal","scale":{"domain":["Spin up","Spin down"],"range":["#ff0000","#0000ff"]},
     "legend":{"orient":"top-right","offset":9,"title":null,"symbolType":"circle","symbolSize":90,"symbolStrokeWidth":0,"labelFontSize":16,"labelOffset":20,"padding":8,"rowPadding":6,"fillColor":"rgba(255,255,255,0.85)","strokeColor":"#d0d0d0","cornerRadius":4,"symbolOffset":10,"labelColor":"#222222"}}}},
  {"data":{"name":"arrA"},"mark":{"type":"rule","color":"#000000","strokeWidth":1.3},
   "encoding":{"x":{"field":"k","type":"quantitative"},"y":{"field":"lo","type":"quantitative"},"y2":{"field":"hi"}}},
  {"data":{"name":"headA"},"mark":{"type":"point","filled":true,"color":"#000000","size":40,"opacity":1,"strokeWidth":0},
   "encoding":{"x":{"field":"k","type":"quantitative"},"y":{"field":"e","type":"quantitative"},
    "shape":{"field":"d","type":"nominal","scale":{"domain":["up","down"],"range":["triangle-up","triangle-down"]},"legend":null}}},
  {"data":{"name":"labA"},"mark":{"type":"text","fontSize":17,"align":"left","baseline":"middle","font":"DejaVu Sans","color":"#000000"},
   "encoding":{"x":{"field":"k","type":"quantitative"},"y":{"field":"e","type":"quantitative"},"text":{"field":"t"}}},
  {"data":{"name":"mainA"},"mark":{"type":"text","fontSize":22,"align":"left","baseline":"alphabetic","font":"Liberation Serif","color":"#000000"},
   "encoding":{"x":{"field":"k","type":"quantitative"},"y":{"field":"e","type":"quantitative"},"text":{"field":"t"}}},
  {"data":{"name":"subA"},"mark":{"type":"text","fontSize":15,"align":"left","baseline":"alphabetic","font":"Liberation Serif","color":"#000000"},
   "encoding":{"x":{"field":"k","type":"quantitative"},"y":{"field":"e","type":"quantitative"},"text":{"field":"t"}}}
 ]},
{"width":443,"height":220,
 "layer":[
  {"data":{"name":"B"},"mark":{"type":"point","filled":true,"size":64,"opacity":0.85,"clip":true,"strokeWidth":0},
   "encoding":{
    "x":{"field":"k","type":"quantitative","scale":{"domain":[0,443],"nice":false,"zero":false},"axis":{"values":[0,59,221,280,443],"labelExpr":"datum.value == 59 ? 'Z' : datum.value == 221 ? 'T' : datum.value == 280 ? 'X' : 'Γ'","title":null,"grid":true,"labelFontSize":17,"labelPadding":4,"labelFlush":false}},
    "y":{"field":"e","type":"quantitative","scale":{"domain":[-1,6],"nice":false,"zero":false},"axis":{"values":[0,2,4,6],"title":"Energy (eV)","grid":true,"labelPadding":8,"titlePadding":8,"labelFontSize":16,"titleFontSize":17,"titleFontWeight":"normal","labelFlush":false}},
    "color":{"field":"s","type":"quantitative","scale":{"domain":[-0.235,0,0.235],"range":["#0000ff","#ffffff","#ff0000"],"interpolate":"rgb"},
      "legend":{"orient":"none","legendX":483,"legendY":9,"direction":"vertical","gradientLength":200,"gradientThickness":17,"gradientStrokeColor":"#000000","gradientStrokeWidth":1,"values":[-0.2,-0.1,0,0.1,0.2],"format":".1f","labelFontSize":13,"labelOffset":6,"labelColor":"#222222","title":"spin projection","titleOrient":"right","titleAngle":90,"titleFontSize":16,"titleFontWeight":"normal","titlePadding":2,"titleAnchor":"middle","titleColor":"#000000"}}
   }},
  {"data":{"name":"leg"},"mark":{"type":"point","filled":true,"clip":true,"opacity":1,"size":90},
   "encoding":{"x":{"datum":-500,"type":"quantitative"},"y":{"datum":-50,"type":"quantitative"},
    "fill":{"field":"lab","type":"nominal","scale":{"domain":["Spin up","Spin down"],"range":["#ff0000","#0000ff"]},
     "legend":{"orient":"top-right","offset":9,"title":null,"symbolType":"circle","symbolSize":90,"symbolStrokeWidth":0,"labelFontSize":16,"labelOffset":20,"padding":8,"rowPadding":6,"fillColor":"rgba(255,255,255,0.85)","strokeColor":"#d0d0d0","cornerRadius":4,"symbolOffset":10,"labelColor":"#222222"}}}},
  {"data":{"name":"arrB"},"mark":{"type":"rule","color":"#000000","strokeWidth":1.3},
   "encoding":{"x":{"field":"k","type":"quantitative"},"y":{"field":"lo","type":"quantitative"},"y2":{"field":"hi"}}},
  {"data":{"name":"headB"},"mark":{"type":"point","filled":true,"color":"#000000","size":40,"opacity":1,"strokeWidth":0},
   "encoding":{"x":{"field":"k","type":"quantitative"},"y":{"field":"e","type":"quantitative"},
    "shape":{"field":"d","type":"nominal","scale":{"domain":["up","down"],"range":["triangle-up","triangle-down"]},"legend":null}}},
  {"data":{"name":"labB"},"mark":{"type":"text","fontSize":17,"align":"left","baseline":"middle","font":"DejaVu Sans","color":"#000000"},
   "encoding":{"x":{"field":"k","type":"quantitative"},"y":{"field":"e","type":"quantitative"},"text":{"field":"t"}}},
  {"data":{"name":"mainB"},"mark":{"type":"text","fontSize":22,"align":"left","baseline":"alphabetic","font":"Liberation Serif","color":"#000000"},
   "encoding":{"x":{"field":"k","type":"quantitative"},"y":{"field":"e","type":"quantitative"},"text":{"field":"t"}}},
  {"data":{"name":"subB"},"mark":{"type":"text","fontSize":15,"align":"left","baseline":"alphabetic","font":"Liberation Serif","color":"#000000"},
   "encoding":{"x":{"field":"k","type":"quantitative"},"y":{"field":"e","type":"quantitative"},"text":{"field":"t"}}}
 ]}
]
}
